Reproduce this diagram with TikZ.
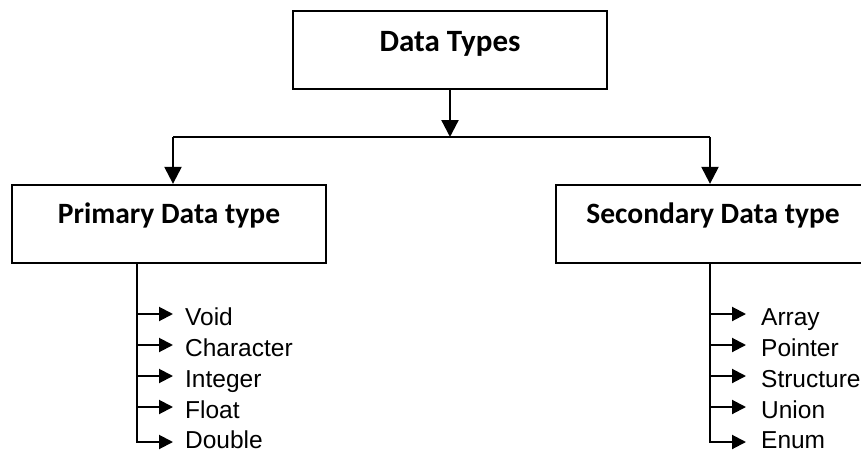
\documentclass[tikz,border=0pt]{standalone}
\usepackage{fontspec}
\setmainfont{Liberation Sans}
\newfontfamily\headfont{Carlito}
\usetikzlibrary{arrows.meta}
\begin{document}
\begin{tikzpicture}[x=1pt, y=-1pt, line width=2.3pt,
  box/.style={draw, rectangle, minimum width=314pt, minimum height=78pt, inner sep=0pt},
  head/.style={font=\headfont\bfseries\fontsize{29.5}{32}\selectfont, anchor=base, inner sep=0pt},
  item/.style={font=\fontsize{24.5}{27}\selectfont, anchor=base west, inner sep=0pt},
  tip/.style={-{Triangle[length=17pt,width=17pt]}},
  smalltip/.style={line width=2pt, -{Triangle[length=14pt,width=14pt]}}]
  \useasboundingbox (0,0) rectangle (861,452);
  \clip (0,0) rectangle (861,452);

  % boxes and their titles
  \node[box] (dt) at (450,50) {};
  \node[head, font=\headfont\bfseries\fontsize{31}{34}\selectfont] (dtl) at (450,52) {Data Types};
  \node[box] (pd) at (169,224) {};
  \node[head] (pdl) at (169,223) {Primary Data type};
  \node[box] (sd) at (713,224) {};
  \node[head] (sdl) at (713,223) {Secondary Data type};

  % top-level split
  \coordinate (split) at (450,137);
  \coordinate (jl) at (173,137);
  \coordinate (jr) at (710,137);
  \draw[tip] (dt.south) -- (split);
  \draw (jl) -- (jr);
  \draw[tip] (jl) -- (jl |- pd.north);
  \draw[tip] (jr) -- (jr |- sd.north);

  % primary data types
  \coordinate (pstem) at (137,443);
  \draw[line width=2pt] (pd.south -| pstem) -- (pstem);
  \foreach \n/\t/\y/\d in {1/Void/325/11, 2/Character/356/11, 3/Integer/387/11, 4/Float/418/11, 5/Double/448/6} {
    \node[item] (p\n) at (184,\y) {\t};
    \coordinate (pa\n) at ([yshift=\d pt]p\n.base west);
    \draw[smalltip] (pa\n -| pstem) -- ([xshift=-11pt]pa\n);
  }

  % secondary data types
  \coordinate (sstem) at (710,443);
  \draw[line width=2pt] (sd.south -| sstem) -- (sstem);
  \foreach \n/\t/\y/\d in {1/Array/325/11, 2/Pointer/356/11, 3/Structure/387/11, 4/Union/418/11, 5/Enum/448/6} {
    \node[item] (s\n) at (760,\y) {\t};
    \coordinate (sa\n) at ([yshift=\d pt]s\n.base west);
    \draw[smalltip] (sa\n -| sstem) -- ([xshift=-14pt]sa\n);
  }
\end{tikzpicture}
\end{document}
